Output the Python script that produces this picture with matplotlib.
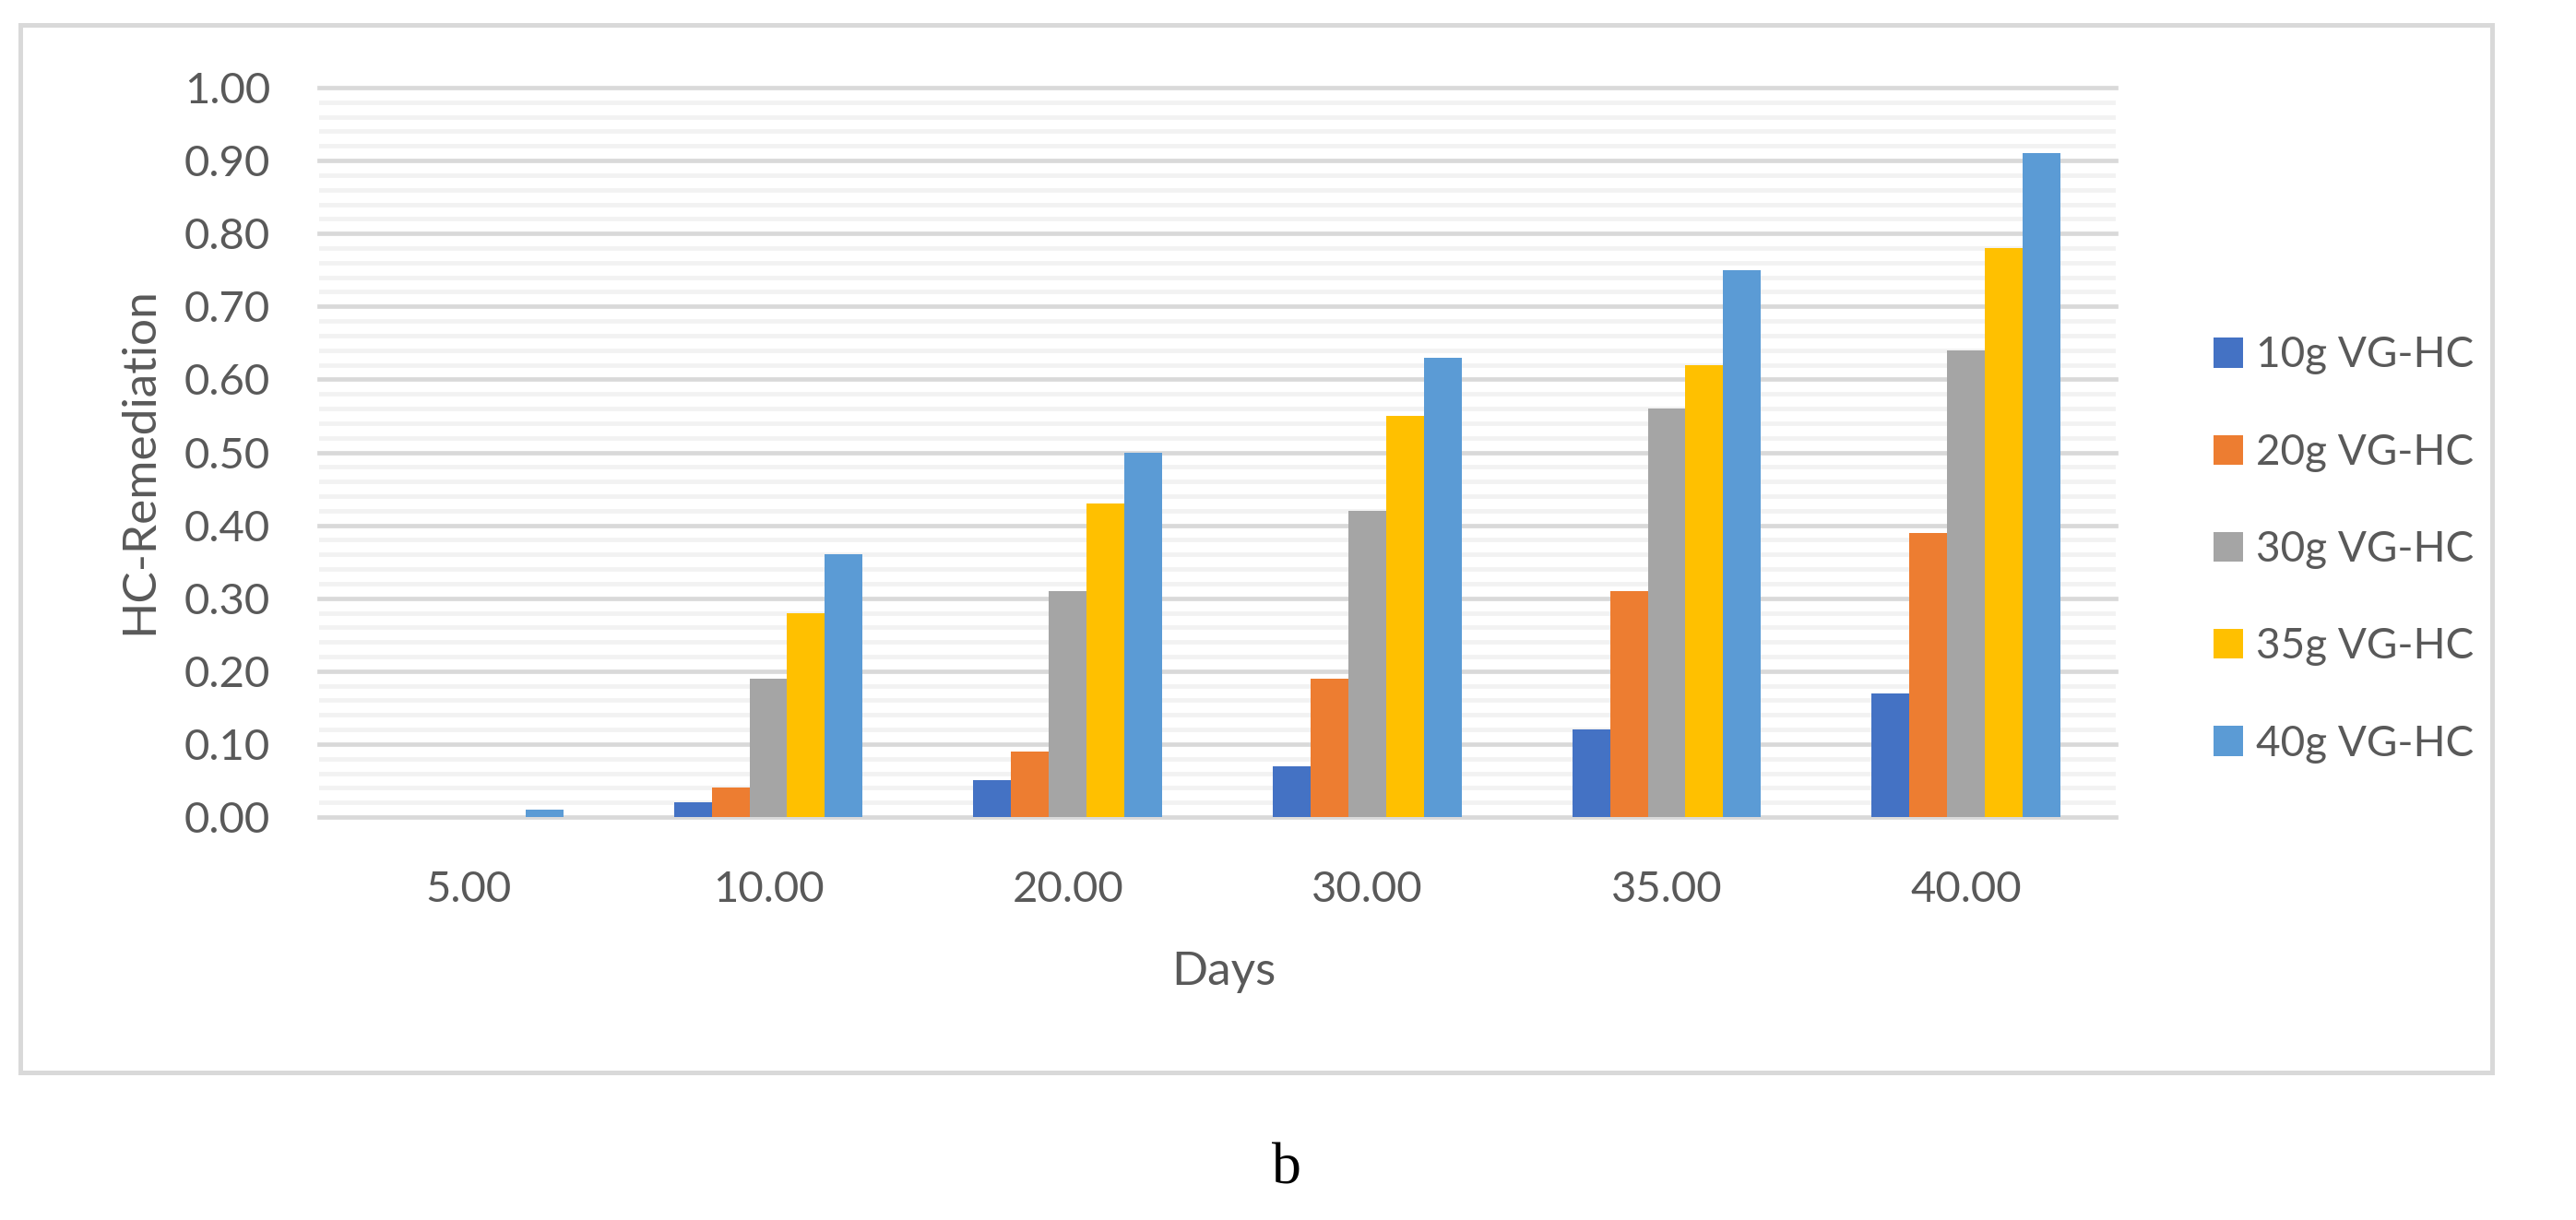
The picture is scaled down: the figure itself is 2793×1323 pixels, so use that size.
import matplotlib
matplotlib.use("Agg")
import matplotlib.pyplot as plt
from matplotlib.patches import Rectangle
from matplotlib.ticker import MultipleLocator, FixedLocator

categories = ["5.00", "10.00", "20.00", "30.00", "35.00", "40.00"]
series_names = ["10g VG-HC", "20g VG-HC", "30g VG-HC", "35g VG-HC", "40g VG-HC"]
s10 = [0.00, 0.02, 0.05, 0.07, 0.12, 0.17]
s20 = [0.00, 0.04, 0.09, 0.19, 0.31, 0.39]
s30 = [0.00, 0.19, 0.31, 0.42, 0.56, 0.64]
s35 = [0.00, 0.28, 0.43, 0.55, 0.62, 0.78]
s40 = [0.01, 0.36, 0.50, 0.63, 0.75, 0.91]
series = [s10, s20, s30, s35, s40]
colors = ["#4472C4", "#ED7D31", "#A5A5A5", "#FFC000", "#5B9BD5"]
yticks = [0.0, 0.1, 0.2, 0.3, 0.4, 0.5, 0.6, 0.7, 0.8, 0.9, 1.0]

plt.rcParams['font.family'] = ['Lato', 'DejaVu Sans']
txt = "#595959"

W, H = 2793, 1323
fig = plt.figure(figsize=(W / 100, H / 100), dpi=100)
fig.patch.set_facecolor("white")

# outer chart frame
fig.patches.append(Rectangle((22 / W, 1 - 1163 / H), (2702 - 22) / W, (1163 - 27) / H,
                             transform=fig.transFigure, fill=False,
                             edgecolor="#d9d9d9", linewidth=3.6))

ax = fig.add_axes([346 / W, 1 - 886 / H, (2294 - 346) / W, (886 - 95) / H])
ax.set_xlim(-0.5, len(categories) - 0.5)
ax.set_ylim(0, 1.0)

bw = 0.126
for j, (vals, c, name) in enumerate(zip(series, colors, series_names)):
    xs = [i + (j - 2) * bw for i in range(len(categories))]
    ax.bar(xs, vals, width=bw, color=c, label=name, zorder=3, linewidth=0)

ax.yaxis.set_major_locator(FixedLocator(yticks))
ax.yaxis.set_minor_locator(MultipleLocator(0.02))
ax.yaxis.grid(True, which='minor', color="#f2f2f2", linewidth=3.4, zorder=0)
ax.yaxis.grid(True, which='major', color="#d9d9d9", linewidth=3.4, zorder=1)
for t in ax.yaxis.get_major_ticks():
    t.gridline.set_clip_on(False)
ax.set_axisbelow(True)

ax.set_xticks(range(len(categories)))
ax.set_xticklabels(categories)
ax.set_yticks(yticks)
ax.set_yticklabels([f"{v:.2f}" for v in yticks])
ax.tick_params(axis='both', which='both', length=0, colors=txt, labelsize=34)
ax.tick_params(axis='y', pad=38)
ax.tick_params(axis='x', pad=42)
for s in ax.spines.values():
    s.set_visible(False)

fig.text(151 / W, 1 - 500 / H, "HC-Remediation", rotation=90, ha='center', va='center',
         fontsize=37, color=txt)
fig.text(1327 / W, 1 - 1054 / H, "Days", ha='center', va='center', fontsize=37, color=txt)

handles, labels = ax.get_legend_handles_labels()
leg = fig.legend(handles, labels, loc='center left', bbox_to_anchor=(2400 / W, 1 - 596 / H),
                 frameon=False, fontsize=33, handlelength=0.7, handleheight=0.7,
                 handletextpad=0.3, labelspacing=1.38, borderpad=0, borderaxespad=0)
for t in leg.get_texts():
    t.set_color(txt)

fig.text(1395 / W, 1 - 1268 / H, "b", ha='center', va='center', fontsize=46,
         family=['Liberation Serif'], color='black')

fig.savefig("out.png", dpi=100)
